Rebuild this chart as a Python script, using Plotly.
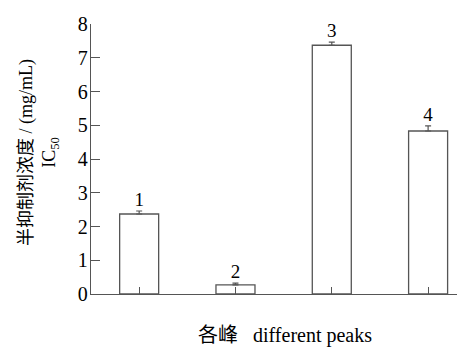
import plotly.graph_objects as go

peaks = [0, 1, 2, 3]
peak_labels = ["1", "2", "3", "4"]
ic50 = [2.37, 0.27, 7.37, 4.83]
err = [0.09, 0.05, 0.09, 0.15]
y_ticks = [0, 1, 2, 3, 4, 5, 6, 7, 8]

FONT = "Liberation Serif, Times New Roman, Noto Sans CJK SC, serif"
LINE = "#555555"

fig = go.Figure()
fig.add_trace(go.Bar(
    x=peaks, y=ic50, width=0.405,
    marker=dict(color="white", line=dict(color=LINE, width=1.3)),
    error_y=dict(type="data", array=err, arrayminus=[0]*4, symmetric=False,
                 color=LINE, thickness=1.2, width=3),
    showlegend=False,
))
fig.add_trace(go.Scatter(
    x=peaks, y=[v + e for v, e in zip(ic50, err)],
    mode="text", text=peak_labels, textposition="top center",
    textfont=dict(family=FONT, size=19, color="black"),
    showlegend=False, cliponaxis=False,
))

fig.update_layout(
    width=457, height=347,
    margin=dict(l=91, r=0, t=24, b=53),
    plot_bgcolor="white", paper_bgcolor="white",
    font=dict(family=FONT, size=18, color="black"),
    xaxis=dict(range=[-0.5, 3.3], tickvals=peaks, ticktext=["", "", "", ""],
               ticks="inside", ticklen=7, tickcolor=LINE, tickwidth=1.2,
               showline=True, linecolor=LINE, linewidth=1.3,
               showgrid=False, zeroline=False),
    yaxis=dict(range=[0, 8], tickvals=y_ticks,
               ticks="inside", ticklen=9, tickcolor=LINE, tickwidth=1.2,
               showline=True, linecolor=LINE, linewidth=1.3,
               showgrid=False, zeroline=False, ticklabelstandoff=-2,
               tickfont=dict(family=FONT, size=20)),
    annotations=[
        dict(text="半抑制剂浓度 / (mg/mL)<br>IC<sub>50</sub>",
             xref="paper", yref="paper", x=0, y=0.5, xshift=-52, yshift=6,
             textangle=-90, showarrow=False, xanchor="center", yanchor="middle",
             font=dict(family=FONT, size=18, color="black")),
        dict(text="各峰   different peaks",
             xref="paper", yref="paper", x=0.5, y=0, yshift=-41, xshift=11,
             showarrow=False, xanchor="center", yanchor="middle",
             font=dict(family=FONT, size=20, color="black")),
    ],
)
fig.write_html("out.html")
